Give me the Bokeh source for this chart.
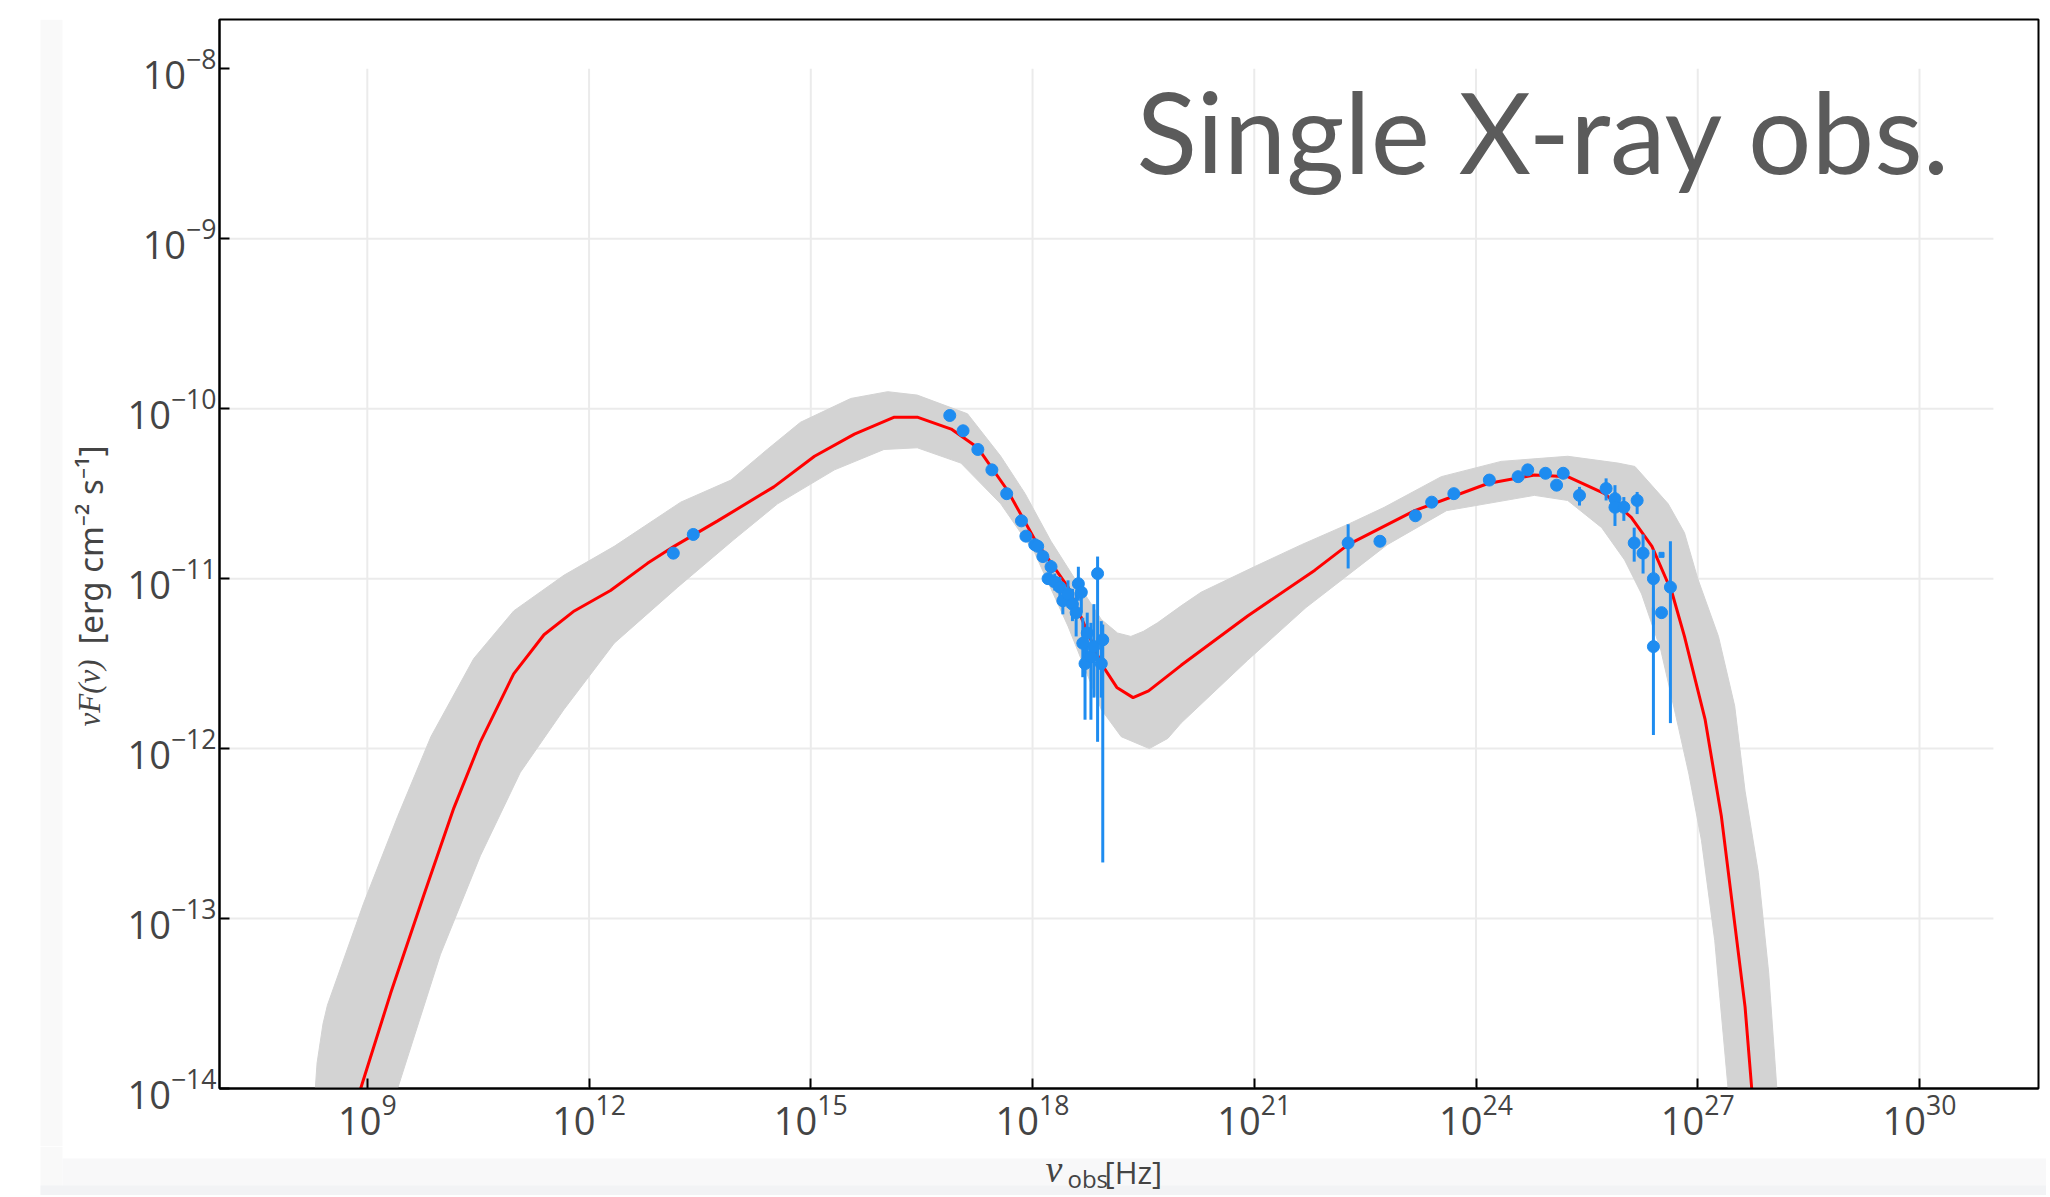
import numpy as np
from bokeh.plotting import figure
from bokeh.models import Range1d, FixedTicker, Label, LogTickFormatter
from bokeh.layouts import row, column
from bokeh.embed import file_html
from bokeh.resources import INLINE

# ---------------- data (log10 nu [Hz], log10 nuF(nu) [erg cm^-2 s^-1]) ----------------
band_upper_lognu = [8.28, 8.32, 8.40, 8.46, 8.95, 9.41, 9.86, 10.44, 10.98, 11.66, 12.34, 13.24, 13.92,
                    14.41, 14.86, 15.54, 16.04, 16.44, 17.12, 17.57, 17.90, 18.25, 18.60, 18.93, 19.15,
                    19.33, 19.50, 19.69, 20.01, 20.28, 21.00, 21.64, 22.27, 22.76, 23.53, 24.34, 25.24,
                    25.92, 26.15, 26.60, 26.82, 27.00, 27.28, 27.50, 27.64, 27.82, 27.96, 28.07, 28.10]
band_upper_logf = [-14.10, -13.85, -13.62, -13.51, -12.91, -12.40, -11.93, -11.47, -11.19, -10.98, -10.81,
                   -10.55, -10.42, -10.24, -10.08, -9.94, -9.90, -9.92, -10.03, -10.28, -10.50, -10.78,
                   -11.02, -11.24, -11.32, -11.34, -11.31, -11.26, -11.16, -11.08, -10.93, -10.80, -10.68,
                   -10.58, -10.40, -10.31, -10.28, -10.32, -10.34, -10.56, -10.73, -11.00, -11.34, -11.75,
                   -12.25, -12.73, -13.32, -14.00, -14.20]
band_lower_lognu = [9.26, 9.41, 9.99, 10.53, 11.07, 11.66, 12.34, 13.20, 13.96, 14.55, 15.32, 15.99, 16.44,
                    17.03, 17.57, 18.03, 18.48, 18.93, 19.20, 19.58, 19.83, 20.01, 20.91, 21.70, 22.80,
                    23.60, 24.79, 25.24, 25.70, 26.01, 26.24, 26.50, 26.70, 26.88, 27.05, 27.23, 27.41, 27.45]
band_lower_logf = [-14.20, -14.00, -13.21, -12.63, -12.14, -11.77, -11.38, -11.05, -10.77, -10.56, -10.36,
                   -10.24, -10.23, -10.32, -10.56, -10.85, -11.28, -11.77, -11.93, -12.00, -11.94, -11.85,
                   -11.48, -11.17, -10.80, -10.60, -10.51, -10.54, -10.70, -10.89, -11.09, -11.42, -11.80,
                   -12.15, -12.54, -13.13, -14.00, -14.20]

best_lognu = [8.85, 8.91, 9.315, 9.766, 10.17, 10.53, 10.98, 11.39, 11.80, 12.29, 12.79, 13.15, 13.74, 14.50,
              15.05, 15.59, 16.13, 16.44, 16.90, 17.26, 17.66, 18.03, 18.48, 18.93, 19.14, 19.36, 19.57,
              20.01, 20.91, 21.82, 22.27, 23.17, 24.16, 24.79, 25.24, 25.74, 26.10, 26.38, 26.65, 26.82,
              27.10, 27.32, 27.50, 27.64, 27.73, 27.76]
best_logf = [-14.15, -14.00, -13.44, -12.86, -12.35, -11.96, -11.56, -11.33, -11.19, -11.07, -10.91, -10.81,
             -10.66, -10.46, -10.28, -10.15, -10.05, -10.05, -10.12, -10.23, -10.48, -10.77, -11.05, -11.50,
             -11.64, -11.70, -11.66, -11.51, -11.22, -10.95, -10.80, -10.60, -10.44, -10.39, -10.40, -10.50,
             -10.64, -10.81, -11.08, -11.34, -11.83, -12.40, -13.03, -13.52, -14.00, -14.20]

ir_lognu = [13.14, 13.41]
ir_logf = [-10.85, -10.74]

optuv_lognu = [16.88, 17.06, 17.26, 17.45, 17.65, 17.85, 17.91, 18.03]
optuv_logf = [-10.04, -10.13, -10.24, -10.36, -10.50, -10.66, -10.75, -10.80]

xray_lognu = [18.07, 18.14, 18.21, 18.25, 18.30, 18.37, 18.41, 18.48, 18.54, 18.59, 18.62, 18.66, 18.68,
              18.71, 18.74, 18.79, 18.83, 18.88, 18.93, 18.95]
xray_logf = [-10.81, -10.87, -11.00, -10.93, -11.02, -11.05, -11.13, -11.09, -11.15, -11.20, -11.03, -11.08,
             -11.38, -11.50, -11.32, -11.46, -11.40, -10.97, -11.50, -11.36]
xray_err_dn = [0.03, 0.03, 0.03, 0.04, 0.05, 0.06, 0.08, 0.08, 0.10, 0.14, 0.10, 0.12, 0.20, 0.33, 0.20,
               0.37, 0.30, 0.99, 0.20, 1.31]
xray_err_up = [0.03, 0.03, 0.03, 0.04, 0.05, 0.06, 0.07, 0.08, 0.09, 0.12, 0.10, 0.06, 0.15, 0.15, 0.12,
               0.20, 0.25, 0.10, 0.25, 0.09]

gamma_lognu = [22.27, 22.70, 23.18, 23.40, 23.70, 24.18, 24.57, 24.70, 24.94, 25.09, 25.18, 25.40, 25.76,
               25.88, 25.88, 26.00, 26.18, 26.14, 26.26, 26.40, 26.51, 26.40, 26.63]
gamma_logf = [-10.79, -10.78, -10.63, -10.55, -10.50, -10.42, -10.40, -10.36, -10.38, -10.45, -10.38, -10.51,
              -10.47, -10.53, -10.58, -10.58, -10.54, -10.79, -10.85, -11.00, -11.20, -11.40, -11.05]
gamma_err_dn = [0.15, 0, 0, 0, 0, 0, 0, 0, 0, 0, 0, 0.06, 0.07, 0.08, 0.11, 0.08, 0.08, 0.11, 0.12, 0.27, 0,
                0.52, 0.80]
gamma_err_up = [0.11, 0, 0, 0, 0, 0, 0, 0, 0, 0, 0, 0.05, 0.06, 0.08, 0.09, 0.06, 0.05, 0.09, 0.11, 0.17, 0,
                0.23, 0.27]

ul_lognu = [26.51]
ul_logf = [-10.86]

x_tick_exponents = [9, 12, 15, 18, 21, 24, 27, 30]
y_tick_exponents = [-14, -13, -12, -11, -10, -9, -8]
y_grid_exponents = [-13, -12, -11, -10, -9]

title_text = "Single X-ray obs."
x_label_parts = ["ν", "obs", "[Hz]"]
y_label_parts = ["νF(ν)", "[erg cm⁻² s⁻¹]"]

# ---------------- styling / layout constants ----------------
BLUE = "#1e8cf0"
GRAY = "#d3d3d3"
GRID = "#ebebeb"
TXT = "#444444"
STRIP = "#f9f9f9"
BAND1 = "#f8f8f9"
BAND2 = "#f2f3f5"
LOG_X_LO, LOG_X_HI = 7.0, 31.61
X_LO, X_HI = 10 ** LOG_X_LO, 10 ** LOG_X_HI
Y_LO, Y_HI = 1e-14, 10 ** -7.71
GRID_X_END = 1e31
GRID_Y_END = 1e-8

TOTAL_W = 2046
TOTAL_H = 1195
LEFT_W = 120
FRAME_L, FRAME_T, FRAME_W, FRAME_H = 219, 19, 1819, 1069
MAIN_H = 1146
BOTTOM_H = TOTAL_H - MAIN_H


def blank(w, h):
    f = figure(x_range=Range1d(0, w), y_range=Range1d(0, h), frame_width=w, frame_height=h,
               min_border=0, x_axis_location=None, y_axis_location=None,
               toolbar_location=None, output_backend="svg",
               background_fill_color="white", border_fill_color="white")
    f.outline_line_color = None
    f.grid.visible = False
    return f


def style_axis(ax, ticks):
    ax.ticker = FixedTicker(ticks=ticks)
    ax.formatter = LogTickFormatter()
    ax.axis_line_color = "black"
    ax.axis_line_width = 2
    ax.major_tick_line_color = "black"
    ax.major_tick_line_width = 2
    ax.major_tick_in = 10
    ax.major_tick_out = 0
    ax.minor_tick_line_color = None
    ax.major_label_text_font = "Open Sans"
    ax.major_label_text_font_size = "38px"
    ax.major_label_text_color = TXT


x_ticks = [10.0 ** e for e in x_tick_exponents]
y_ticks = [10.0 ** e for e in y_tick_exponents]
y_grid = [10.0 ** e for e in y_grid_exponents]

# ---------------- main plot ----------------
p = figure(x_axis_type="log", y_axis_type="log",
           x_range=Range1d(X_LO, X_HI), y_range=Range1d(Y_LO, Y_HI),
           frame_width=FRAME_W, frame_height=FRAME_H,
           min_border_left=FRAME_L - LEFT_W, min_border_right=TOTAL_W - FRAME_L - FRAME_W,
           min_border_top=FRAME_T, min_border_bottom=MAIN_H - FRAME_T - FRAME_H,
           toolbar_location=None, output_backend="svg",
           background_fill_color="white", border_fill_color="white")
p.xgrid.visible = False
p.ygrid.visible = False
p.outline_line_color = "black"
p.outline_line_width = 2
p.outline_line_alpha = 1.0

# grid lines (limited extent, as in the reference)
p.segment(x0=x_ticks, y0=[Y_LO] * len(x_ticks), x1=x_ticks, y1=[GRID_Y_END] * len(x_ticks),
          line_color=GRID, line_width=2)
p.segment(x0=[X_LO] * len(y_grid), y0=y_grid, x1=[GRID_X_END] * len(y_grid), y1=y_grid,
          line_color=GRID, line_width=2)

# model band
ux = 10.0 ** np.array(band_upper_lognu)
uy = 10.0 ** np.array(band_upper_logf)
lx = 10.0 ** np.array(band_lower_lognu)
ly = 10.0 ** np.array(band_lower_logf)
p.patch(np.concatenate([ux, lx[::-1]]), np.concatenate([uy, ly[::-1]]),
        fill_color=GRAY, line_color=GRAY, line_width=1)

# best fit
p.line(10.0 ** np.array(best_lognu), 10.0 ** np.array(best_logf), line_color="#ff0000", line_width=3)


def draw_points(lognu, logf, err_dn=None, err_up=None):
    x = 10.0 ** np.array(lognu)
    y = 10.0 ** np.array(logf)
    if err_dn is not None:
        dn = np.array(err_dn)
        up = np.array(err_up)
        lf = np.array(logf)
        m = (dn > 0) | (up > 0)
        p.segment(x0=x[m], y0=10.0 ** (lf[m] - dn[m]), x1=x[m], y1=10.0 ** (lf[m] + up[m]),
                  line_color=BLUE, line_width=3)
    p.scatter(x, y, size=12, fill_color=BLUE, line_color=BLUE)


draw_points(ir_lognu, ir_logf)
draw_points(optuv_lognu, optuv_logf)
draw_points(xray_lognu, xray_logf, xray_err_dn, xray_err_up)
draw_points(gamma_lognu, gamma_logf, gamma_err_dn, gamma_err_up)
p.scatter(10.0 ** np.array(ul_lognu), 10.0 ** np.array(ul_logf), marker="square", size=5,
          fill_color=BLUE, line_color=BLUE)

style_axis(p.xaxis, x_ticks)
style_axis(p.yaxis, y_ticks)
p.xaxis.major_label_standoff = 5
p.yaxis.major_label_standoff = 3

# big title (frame-relative screen units, anchor = text middle)
p.add_layout(Label(x=917, y=FRAME_T + FRAME_H - 130, x_units="screen", y_units="screen", text=title_text,
                   text_font="Lato", text_font_size="112px", text_color="#5b5b5b",
                   text_baseline="middle", text_align="left"))

# ---------------- left strip: y-axis title ----------------
left = blank(LEFT_W, MAIN_H)
left.quad(left=[40], right=[62], bottom=[0], top=[MAIN_H], fill_color=STRIP, line_color=None)
left.add_layout(Label(x=89, y=MAIN_H - 707, text=y_label_parts[0],
                      text_font="Liberation Serif", text_font_style="italic", text_font_size="31px",
                      text_color=TXT, text_baseline="middle", text_align="left", angle=np.pi / 2))
left.add_layout(Label(x=90, y=MAIN_H - 625, text=y_label_parts[1],
                      text_font="Noto Sans", text_font_size="33px",
                      text_color=TXT, text_baseline="middle", text_align="left", angle=np.pi / 2))

# ---------------- bottom strip: x-axis title ----------------
bottom = blank(TOTAL_W, BOTTOM_H)
bottom.quad(left=[62], right=[TOTAL_W], bottom=[0], top=[TOTAL_H - 1158], fill_color=BAND1, line_color=None)
bottom.quad(left=[40], right=[62], bottom=[0], top=[BOTTOM_H], fill_color=STRIP, line_color=None)
bottom.quad(left=[40], right=[TOTAL_W], bottom=[0], top=[TOTAL_H - 1185], fill_color=BAND2, line_color=None)

bottom.add_layout(Label(x=1045, y=TOTAL_H - 1168, text=x_label_parts[0],
                        text_font="Liberation Serif", text_font_style="italic", text_font_size="38px",
                        text_color=TXT, text_baseline="middle", text_align="left"))
bottom.add_layout(Label(x=1067, y=TOTAL_H - 1178, text=x_label_parts[1],
                        text_font="Open Sans", text_font_size="24px",
                        text_color=TXT, text_baseline="middle", text_align="left"))
bottom.add_layout(Label(x=1104, y=TOTAL_H - 1171, text=x_label_parts[2],
                        text_font="Open Sans", text_font_size="31px",
                        text_color=TXT, text_baseline="middle", text_align="left"))

layout = column(row(left, p, spacing=0), bottom, spacing=0)

open("out.html", "w").write(file_html(layout, INLINE))
